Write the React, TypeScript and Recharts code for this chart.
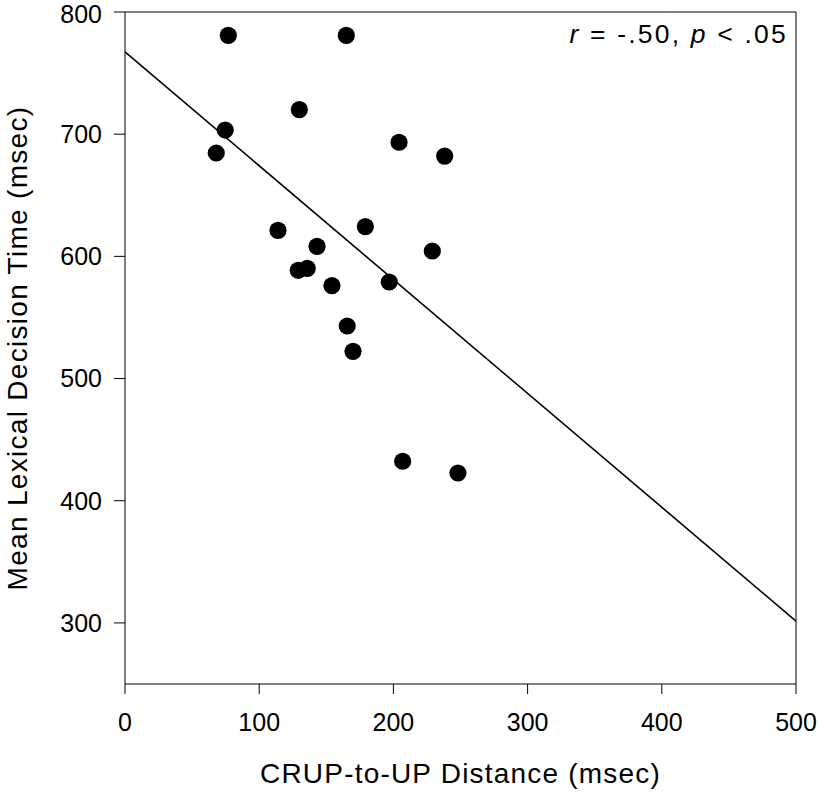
import React from "react";
import {
  ScatterChart,
  Scatter,
  XAxis,
  YAxis,
  ReferenceLine,
  Customized,
} from "recharts";

const FONT = "'Liberation Sans', Arial, Helvetica, sans-serif";

// CRUP-to-UP distance (msec)
const crupDistance = [
  77.0, 164.9, 129.9, 74.7, 68.0, 204.2, 238.2, 114.0, 179.1, 143.1, 229.0,
  129.1, 135.8, 154.2, 196.9, 165.6, 169.9, 206.9, 248.1,
];
// Mean lexical decision time (msec)
const decisionTime = [
  780.9, 780.9, 720.1, 703.4, 684.6, 693.4, 682.1, 621.3, 624.4, 608.2, 604.4,
  588.6, 590.2, 576.1, 579.0, 543.0, 522.3, 432.3, 422.7,
];

// regression line endpoints
const fitX = [0, 500];
const fitY = [767.3, 301.5];

const xTicks = [0, 100, 200, 300, 400, 500];
const yTicks = [300, 400, 500, 600, 700, 800];
const xDomain = [0, 500];
const yDomain = [250, 800];

const xTitle = "CRUP-to-UP Distance (msec)";
const yTitle = "Mean Lexical Decision Time (msec)";

const points = crupDistance.map((x, i) => ({ x, y: decisionTime[i] }));

const Dot = (props: any) => {
  const { cx, cy } = props;
  if (cx == null || cy == null) return null;
  return <circle cx={cx} cy={cy} r={8.6} fill="#000" />;
};

const Annotation = () => (
  <text
    x={788}
    y={43}
    textAnchor="end"
    fontFamily={FONT}
    fontSize={26.5}
    fill="#000"
    letterSpacing={2.2}
  >
    <tspan fontStyle="italic">r</tspan>
    <tspan> = -.50, </tspan>
    <tspan fontStyle="italic">p</tspan>
    <tspan> &lt; .05</tspan>
  </text>
);

export default function App() {
  return (
    <div style={{ position: "absolute", left: 0, top: 0, background: "#fff" }}>
      <ScatterChart
        width={820}
        height={796}
        margin={{ top: 12, right: 24, bottom: 0, left: 0 }}
      >
        <XAxis
          type="number"
          dataKey="x"
          domain={xDomain}
          ticks={xTicks}
          height={112}
          tickSize={10}
          tickMargin={19}
          axisLine={{ stroke: "#000", strokeWidth: 1 }}
          tickLine={{ stroke: "#000", strokeWidth: 1 }}
          tick={{ fill: "#000", fontSize: 25, fontFamily: FONT }}
          label={{
            content: (p: any) => {
              const vb = p.viewBox || {};
              const cx = (vb.x ?? 125) + (vb.width ?? 671) / 2;
              return (
                <text
                  x={cx}
                  y={783}
                  textAnchor="middle"
                  fontFamily={FONT}
                  fontSize={28}
                  letterSpacing={1.2}
                  fill="#000"
                >
                  {xTitle}
                </text>
              );
            },
          }}
        />
        <YAxis
          type="number"
          dataKey="y"
          domain={yDomain}
          ticks={yTicks}
          width={125}
          tickSize={11}
          tickMargin={12}
          axisLine={{ stroke: "#000", strokeWidth: 1 }}
          tickLine={{ stroke: "#000", strokeWidth: 1 }}
          tick={{ fill: "#000", fontSize: 25, fontFamily: FONT }}
          label={{
            content: (p: any) => {
              const vb = p.viewBox || {};
              const cy = (vb.y ?? 12) + (vb.height ?? 672) / 2;
              const bx = 27;
              return (
                <text
                  x={bx}
                  y={cy}
                  transform={`rotate(-90, ${bx}, ${cy})`}
                  textAnchor="middle"
                  fontFamily={FONT}
                  fontSize={28}
                  letterSpacing={1.3}
                  fill="#000"
                >
                  {yTitle}
                </text>
              );
            },
          }}
        />
        <ReferenceLine y={yDomain[1]} stroke="#000" strokeWidth={1} />
        <ReferenceLine x={xDomain[1]} stroke="#000" strokeWidth={1} />
        <ReferenceLine
          segment={[
            { x: fitX[0], y: fitY[0] },
            { x: fitX[1], y: fitY[1] },
          ]}
          stroke="#000"
          strokeWidth={1.6}
        />
        <Scatter
          data={points}
          shape={Dot}
          fill="#000"
          isAnimationActive={false}
        />
        <Customized component={Annotation} />
      </ScatterChart>
    </div>
  );
}
